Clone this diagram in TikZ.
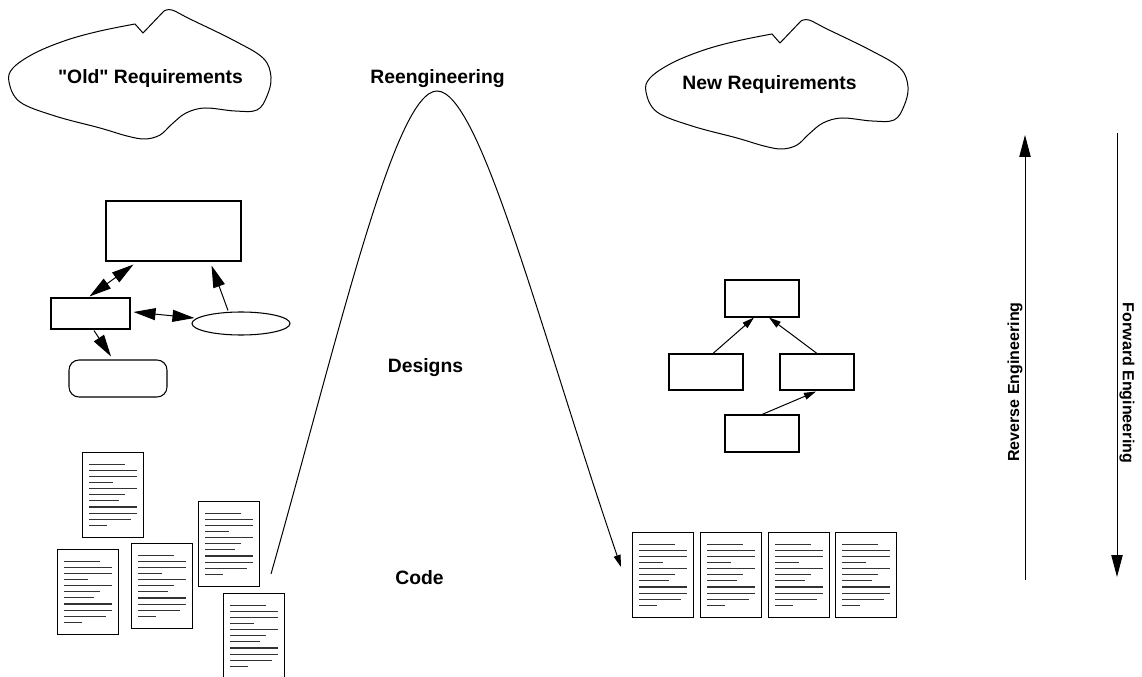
\documentclass[tikz,border=0pt]{standalone}
\usepackage{fontspec}
\setmainfont{Liberation Sans}
\usetikzlibrary{arrows.meta,shapes.geometric,calc}
\newcommand\straightq{\XeTeXglyph\XeTeXcharglyph"22\relax}
\begin{document}
\begin{tikzpicture}[x=0.75pt,y=-0.75pt,
  lbl/.style={font=\fontsize{14.5}{17}\selectfont\bfseries, inner sep=0pt, anchor=base},
  vlbl/.style={font=\fontsize{12}{14}\selectfont\bfseries, inner sep=0pt},
  box/.style={draw, line width=0.8pt, inner sep=0pt},
  bigarrow/.style={line width=0.75pt, -{Triangle[length=16.5pt,width=8.5pt]}},
  bigdbl/.style={line width=0.75pt, {Triangle[length=16.5pt,width=9pt]}-{Triangle[length=16.5pt,width=9pt]}},
  bighead/.style={line width=0.75pt, -{Triangle[length=16.5pt,width=9pt]}},
  smallarrow/.style={line width=0.75pt, -{Triangle[length=9pt,width=5.25pt]}},
  docline/.style={line width=0.8pt, black!80},
  doc/.pic={
    \node[draw, line width=0.75pt, minimum width=45.75pt, minimum height=63.75pt, inner sep=0pt, anchor=north west] (-box) at (0,0) {};
    \foreach \i/\l in {0/36,1/48,2/48,3/24,4/48,5/36,6/30,7/48,8/48,9/42,10/18}
      \draw[docline] (7,{12.3+6.1*\i}) -- ++(\l,0);
  },
  reqcloud/.pic={
    \draw[line width=0.75pt] plot[smooth, tension=0.6] coordinates {(135,24) (100,31) (67,40) (35,53) (13,68) (9,82) (20,102) (55,116) (100,128) (127,136) (145,139) (160,135) (172,124) (186,113) (205,108) (235,111) (257,110) (267,96) (271,77) (263,58) (233,40) (190,19) (172,10) (164,11)} -- (143,33) -- cycle;
  }
]
\useasboundingbox (0,0) rectangle (1142,677);

% clouds
\pic (cl1) at (0,0) {reqcloud};
\pic (cl2) at (637,10) {reqcloud};
\node[lbl] (oldreq) at (150.5,83.3) {\straightq Old\straightq{} Requirements};
\node[lbl] (newreq) at (769.5,90) {New Requirements};

% labels
\node[lbl] (reeng) at (437.5,84) {Reengineering};
\node[lbl] (designs) at (425.5,372) {Designs};
\node[lbl] (code) at (419.5,584) {Code};

% left design diagram
\node[box, minimum width=101.25pt, minimum height=45pt] (A) at (173.5,231) {};
\node[box, minimum width=59.25pt, minimum height=23.25pt] (B) at (90.5,313.5) {};
\node[box, ellipse, minimum width=73.5pt, minimum height=17.25pt] (C) at (241,323.5) {};
\node[box, rounded corners=7.5pt, minimum width=73.5pt, minimum height=27.75pt] (D) at (118,378.5) {};
\draw[bigdbl] ($(A.south west)+(28,3)$) -- ($(B.north west)+(39,-1)$);
\draw[bigdbl] ($(B.east)+(3,-1.5)$) -- ($(C.west)+(3,-5.5)$);
\draw[bighead] ($(C.north)+(-13,-1)$) -- ($(A.south east)+(-30,4)$);
\draw[bighead] ($(B.south)+(3.5,1)$) -- ($(D.north)+(-7,-3)$);

% right design diagram
\node[box, minimum width=55.5pt, minimum height=27.75pt] (T) at (762,298.5) {};
\node[box, minimum width=55.5pt, minimum height=27pt] (L) at (706,372) {};
\node[box, minimum width=55.5pt, minimum height=27pt] (R) at (817,372) {};
\node[box, minimum width=55.5pt, minimum height=27.75pt] (Bt) at (762,433.5) {};
\draw[smallarrow] ($(L.north)+(7,0)$) -- ($(T.south)+(-8,0)$);
\draw[smallarrow] (R.north) -- ($(T.south)+(7,0)$);
\draw[smallarrow] (Bt.north) -- ($(R.south)+(-1,1)$);

% left documents
\pic (dA) at (82,452) {doc};
\pic (dB) at (57,549) {doc};
\pic (dC) at (131,543) {doc};
\pic (dD) at (198,501) {doc};
\pic (dE) at (223,593) {doc};

% right documents
\pic (d1) at (632,532) {doc};
\pic (d2) at (700,532) {doc};
\pic (d3) at (768,532) {doc};
\pic (d4) at (835,532) {doc};

% reengineering curve
\coordinate (cstart) at (271,574);
\coordinate (cpeak) at (437,91);
\coordinate (cend) at (621,567);
\draw[smallarrow] (cstart) .. controls (340,330) and (395,91) .. (cpeak)
  .. controls (480,91) and (540,330) .. (cend);

% vertical arrows
\coordinate (r0) at (1025,580);
\coordinate (r1) at (1025,135);
\coordinate (f0) at (1117,133);
\coordinate (f1) at (1117,577);
\draw[bigarrow] (r0) -- (r1);
\draw[bigarrow] (f0) -- (f1);
\node[vlbl, rotate=90] (rev) at (1015,382) {Reverse Engineering};
\node[vlbl, rotate=-90] (fwd) at (1127,383) {Forward Engineering};
\end{tikzpicture}
\end{document}
